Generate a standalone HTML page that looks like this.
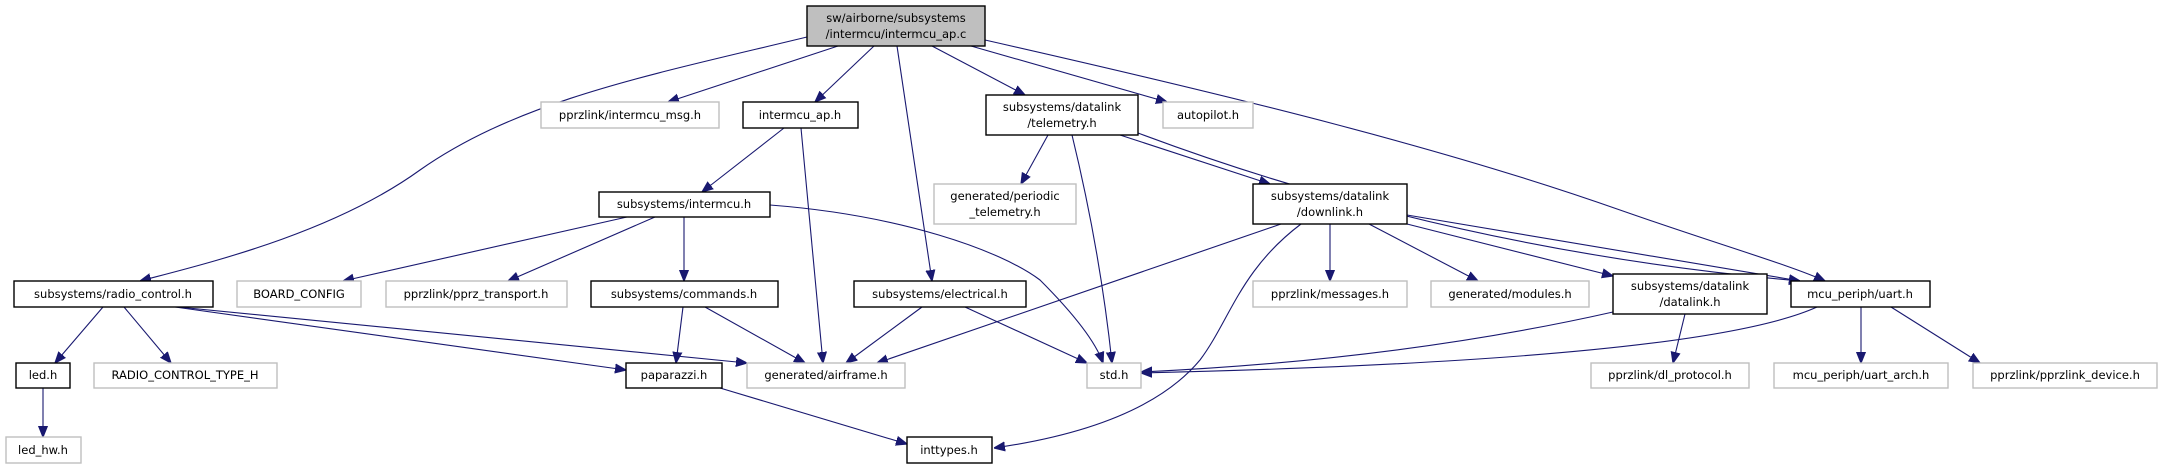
<!DOCTYPE html>
<html><head><meta charset="utf-8"><style>
html,body{margin:0;padding:0;background:#fff}
svg{display:block}
text{font-family:"DejaVu Sans","Liberation Sans",sans-serif;font-size:11.5px;fill:#000;text-anchor:middle}
.b{fill:#fff;stroke:#000;stroke-width:1.4}
.g{fill:#fff;stroke:#bfbfbf;stroke-width:1.4}
path{fill:none;stroke:#191970;stroke-width:1.1}
</style></head><body>
<svg width="2162" height="469" viewBox="0 0 2162 469" xmlns="http://www.w3.org/2000/svg">
<defs><marker id="a" viewBox="0 0 10 10" refX="10" refY="5" markerWidth="11" markerHeight="11" markerUnits="userSpaceOnUse" orient="auto"><path d="M0,1 L10,5 L0,9 z" style="fill:#191970;stroke:#191970"/></marker></defs>
<g marker-end="url(#a)">
<path d="M807,37 C650,75 520,100 420,170 C330,235 200,265 140,281"/>
<path d="M838,46 L668,102"/>
<path d="M874,46 L815,102"/>
<path d="M897,46 L932,281"/>
<path d="M932,46 L1025,95"/>
<path d="M971,46 L1167,102"/>
<path d="M985,40 C1250,100 1450,150 1620,210 C1720,245 1790,265 1825,281"/>
<path d="M784,128 L702,192"/>
<path d="M801,128 L823,363"/>
<path d="M1048,135 L1021,184"/>
<path d="M1072,135 Q1100,250 1112,363"/>
<path d="M1120,135 L1270,184"/>
<path d="M1138,133 Q1450,250 1800,281"/>
<path d="M627,217 L343,281"/>
<path d="M655,217 L508,281"/>
<path d="M684,217 L684,281"/>
<path d="M770,205 C900,215 1000,250 1040,280 C1070,310 1095,340 1103,363"/>
<path d="M103,307 L55,363"/>
<path d="M124,307 L171,363"/>
<path d="M175,307 L626,370"/>
<path d="M178,307 L747,363"/>
<path d="M683,307 L676,363"/>
<path d="M705,307 L805,363"/>
<path d="M922,307 L846,363"/>
<path d="M965,307 L1087,363"/>
<path d="M1281,224 L877,363"/>
<path d="M1301,224 C1240,270 1230,320 1200,360 C1150,420 1050,440 994,448"/>
<path d="M1330,224 L1330,281"/>
<path d="M1369,224 L1478,281"/>
<path d="M1407,224 L1613,276"/>
<path d="M1407,215 L1800,281"/>
<path d="M1613,312 Q1400,360 1141,372"/>
<path d="M1685,314 L1673,363"/>
<path d="M1817,307 Q1700,360 1141,373"/>
<path d="M1861,307 L1861,363"/>
<path d="M1891,307 L1980,363"/>
<path d="M43,388 L43,437"/>
<path d="M720,388 L907,444"/>
</g>
<rect x="807" y="6" width="178" height="40" style="fill:#bfbfbf;stroke:#000;stroke-width:1.4"/>
<text x="896" y="22">sw/airborne/subsystems</text><text x="896" y="38">/intermcu/intermcu_ap.c</text>
<rect class="g" x="541" y="102" width="178" height="26"/><text x="630" y="119">pprzlink/intermcu_msg.h</text>
<rect class="b" x="743" y="102" width="115" height="26"/><text x="800" y="119">intermcu_ap.h</text>
<rect class="b" x="986" y="95" width="152" height="40"/><text x="1062" y="111">subsystems/datalink</text><text x="1062" y="127">/telemetry.h</text>
<rect class="g" x="1163" y="102" width="90" height="26"/><text x="1208" y="119">autopilot.h</text>
<rect class="g" x="934" y="184" width="142" height="40"/><text x="1005" y="200">generated/periodic</text><text x="1005" y="216">_telemetry.h</text>
<rect class="b" x="599" y="192" width="171" height="25"/><text x="684" y="208">subsystems/intermcu.h</text>
<rect class="b" x="1253" y="184" width="154" height="40"/><text x="1330" y="200">subsystems/datalink</text><text x="1330" y="216">/downlink.h</text>
<rect class="b" x="14" y="281" width="199" height="26"/><text x="113" y="298">subsystems/radio_control.h</text>
<rect class="g" x="237" y="281" width="124" height="26"/><text x="299" y="298">BOARD_CONFIG</text>
<rect class="g" x="386" y="281" width="181" height="26"/><text x="476" y="298">pprzlink/pprz_transport.h</text>
<rect class="b" x="591" y="281" width="187" height="26"/><text x="684" y="298">subsystems/commands.h</text>
<rect class="b" x="854" y="281" width="172" height="26"/><text x="940" y="298">subsystems/electrical.h</text>
<rect class="g" x="1253" y="281" width="154" height="26"/><text x="1330" y="298">pprzlink/messages.h</text>
<rect class="g" x="1431" y="281" width="158" height="26"/><text x="1510" y="298">generated/modules.h</text>
<rect class="b" x="1613" y="274" width="154" height="40"/><text x="1690" y="290">subsystems/datalink</text><text x="1690" y="306">/datalink.h</text>
<rect class="b" x="1791" y="281" width="139" height="26"/><text x="1860" y="298">mcu_periph/uart.h</text>
<rect class="b" x="16" y="363" width="54" height="25"/><text x="43" y="379">led.h</text>
<rect class="g" x="94" y="363" width="183" height="25"/><text x="185" y="379">RADIO_CONTROL_TYPE_H</text>
<rect class="b" x="626" y="363" width="96" height="25"/><text x="674" y="379">paparazzi.h</text>
<rect class="g" x="747" y="363" width="158" height="25"/><text x="826" y="379">generated/airframe.h</text>
<rect class="g" x="1087" y="363" width="54" height="25"/><text x="1114" y="379">std.h</text>
<rect class="g" x="1591" y="363" width="158" height="25"/><text x="1670" y="379">pprzlink/dl_protocol.h</text>
<rect class="g" x="1774" y="363" width="174" height="25"/><text x="1861" y="379">mcu_periph/uart_arch.h</text>
<rect class="g" x="1973" y="363" width="184" height="25"/><text x="2065" y="379">pprzlink/pprzlink_device.h</text>
<rect class="g" x="6" y="437" width="75" height="26"/><text x="43" y="454">led_hw.h</text>
<rect class="b" x="907" y="437" width="85" height="26"/><text x="949" y="454">inttypes.h</text>
</svg>
</body></html>
